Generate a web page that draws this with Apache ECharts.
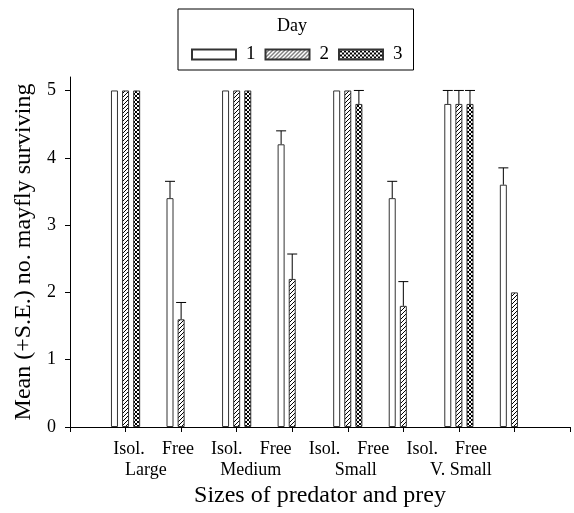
<!DOCTYPE html>
<html>
<head>
<meta charset="utf-8">
<script src="https://cdn.jsdelivr.net/npm/echarts@6/dist/echarts.min.js"></script>
<style>
html,body{margin:0;padding:0;background:#fff;}
#chart{width:574px;height:513px;}
</style>
</head>
<body>
<div id="chart"></div>
<script>
// ---- data ----
const categories = ['Large Isol.', 'Large Free', 'Medium Isol.', 'Medium Free', 'Small Isol.', 'Small Free', 'V. Small Isol.', 'V. Small Free'];
const treatmentLabels = ['Isol.', 'Free', 'Isol.', 'Free', 'Isol.', 'Free', 'Isol.', 'Free'];
const sizeLabels = ['Large', 'Medium', 'Small', 'V. Small'];
const dayNames = ['1', '2', '3'];
const day1 = [5, 3.4, 5, 4.2, 5, 3.4, 4.8, 3.6];
const day2 = [5, 1.6, 5, 2.2, 5, 1.8, 4.8, 2.0];
const day3 = [5, 0, 5, 0, 4.8, 0, 4.8, 0];
const se1 = [0, 0.25, 0, 0.2, 0, 0.25, 0.2, 0.25];
const se2 = [0, 0.25, 0, 0.37, 0, 0.36, 0.2, 0];
const se3 = [0, 0, 0, 0, 0.2, 0, 0.2, 0];
const yTicks = [0, 1, 2, 3, 4, 5];

// ---- styles ----
const FONT = "'Liberation Serif', 'Times New Roman', serif";
const BAR_W = 7;
const BAR_STEP = 11.1;
const CAP_W = 10;

function hatchPattern() {
  const c = document.createElement('canvas');
  c.width = 4; c.height = 4;
  const g = c.getContext('2d');
  g.fillStyle = '#fff'; g.fillRect(0, 0, 4, 4);
  g.strokeStyle = '#000'; g.lineWidth = 1.0;
  g.beginPath();
  g.moveTo(-1, 5); g.lineTo(5, -1);
  g.moveTo(-1, 1); g.lineTo(1, -1);
  g.moveTo(3, 5); g.lineTo(5, 3);
  g.stroke();
  return c;
}
function crossPattern() {
  const c = document.createElement('canvas');
  c.width = 4; c.height = 4;
  const g = c.getContext('2d');
  g.fillStyle = '#fff'; g.fillRect(0, 0, 4, 4);
  g.strokeStyle = '#000'; g.lineWidth = 1;
  g.beginPath();
  g.moveTo(-1, 5); g.lineTo(5, -1);
  g.moveTo(-1, 1); g.lineTo(1, -1);
  g.moveTo(3, 5); g.lineTo(5, 3);
  g.moveTo(-1, -1); g.lineTo(5, 5);
  g.moveTo(3, -1); g.lineTo(5, 1);
  g.moveTo(-1, 3); g.lineTo(1, 5);
  g.stroke();
  return c;
}

const fills = ['#ffffff', { image: hatchPattern(), repeat: 'repeat' }, { image: crossPattern(), repeat: 'repeat' }];
const values = [day1, day2, day3];
const ses = [se1, se2, se3];

// axis categories padded with an empty slot at each end
const axisCats = [''].concat(categories, ['']);

const series = [];
values.forEach((vals, i) => {
  series.push({
    name: dayNames[i],
    type: 'bar',
    xAxisIndex: 0, yAxisIndex: 0,
    barWidth: BAR_W,
    barGap: ((BAR_STEP - BAR_W) / BAR_W * 100).toFixed(1) + '%',
    itemStyle: { color: fills[i], borderColor: '#333', borderWidth: 1 },
    emphasis: { disabled: true },
    data: [null].concat(vals.map(v => v === 0 ? { value: 0, itemStyle: { borderWidth: 0 } } : v), [null]),
    z: 2
  });
});
ses.forEach((se, i) => {
  const data = [];
  se.forEach((s, j) => { if (s > 0) data.push([j + 1, values[i][j], s]); });
  series.push({
    name: 'err' + dayNames[i],
    type: 'custom',
    xAxisIndex: 0, yAxisIndex: 0,
    z: 3,
    renderItem: function (params, api) {
      const cat = api.value(0), v = api.value(1), s = api.value(2);
      const base = api.coord([cat, v]);
      const top = api.coord([cat, v + s]);
      const x = base[0] + (i - 1) * BAR_STEP;
      const st = { stroke: '#000', lineWidth: 1 };
      return {
        type: 'group',
        children: [
          { type: 'line', shape: { x1: x, y1: base[1], x2: x, y2: top[1] }, style: st },
          { type: 'line', shape: { x1: x - CAP_W / 2, y1: top[1], x2: x + CAP_W / 2, y2: top[1] }, style: st }
        ]
      };
    },
    data: data
  });
});

const chart = echarts.init(document.getElementById('chart'), null, { renderer: 'canvas' });
chart.setOption({
  animation: false,
  backgroundColor: '#fff',
  textStyle: { fontFamily: FONT, color: '#000' },
  legend: {
    data: dayNames,
    left: 178, top: 9,
    padding: [36, 11, 6, 13],
    borderColor: '#000', borderWidth: 1,
    itemWidth: 44, itemHeight: 10, itemGap: 9,
    icon: 'rect',
    selectedMode: false,
    textStyle: { fontFamily: FONT, fontSize: 19, color: '#000', padding: [0, 0, 0, 5] }
  },
  graphic: [{
    type: 'text', left: 277, top: 17,
    style: { text: 'Day', font: "18px " + FONT, fill: '#000' }
  }],
  grid: [
    { left: 70, right: 4, top: 77, bottom: 86 },
    { left: 104.6, width: 390.9, top: 77, bottom: 86 },
    { left: 93.3, width: 420, top: 77, bottom: 86 }
  ],
  xAxis: [{
    gridIndex: 0, type: 'category', data: axisCats, boundaryGap: false,
    axisLine: { lineStyle: { color: '#000', width: 1 } },
    axisTick: { show: true, length: 5, interval: 0, lineStyle: { color: '#000' } },
    axisLabel: { show: false },
    splitLine: { show: false },
    name: 'Sizes of predator and prey', nameLocation: 'middle', nameGap: 57,
    nameTextStyle: { fontFamily: FONT, fontSize: 24, color: '#000' }
  }, {
    gridIndex: 1, type: 'category', data: treatmentLabels,
    axisLine: { show: false }, axisTick: { show: false }, splitLine: { show: false },
    axisLabel: { interval: 0, margin: 13, fontFamily: FONT, fontSize: 18, color: '#000' }
  }, {
    gridIndex: 2, type: 'category', data: sizeLabels,
    axisLine: { show: false }, axisTick: { show: false }, splitLine: { show: false },
    axisLabel: { interval: 0, margin: 34, fontFamily: FONT, fontSize: 18, color: '#000' }
  }],
  yAxis: [{
    gridIndex: 0, type: 'value', min: 0, max: 5.2, interval: 1,
    axisLine: { show: true, lineStyle: { color: '#000', width: 1 } },
    axisTick: { show: true, length: 5, customValues: yTicks, lineStyle: { color: '#000' } },
    axisLabel: { customValues: yTicks, margin: 14, fontFamily: FONT, fontSize: 18, color: '#000' },
    splitLine: { show: false },
    name: 'Mean (+S.E.) no. mayfly surviving', nameLocation: 'middle', nameGap: 28,
    nameTextStyle: { fontFamily: FONT, fontSize: 24, color: '#000' }
  }, {
    gridIndex: 1, type: 'value', show: false
  }, {
    gridIndex: 2, type: 'value', show: false
  }],
  series: series
});
</script>
</body>
</html>
